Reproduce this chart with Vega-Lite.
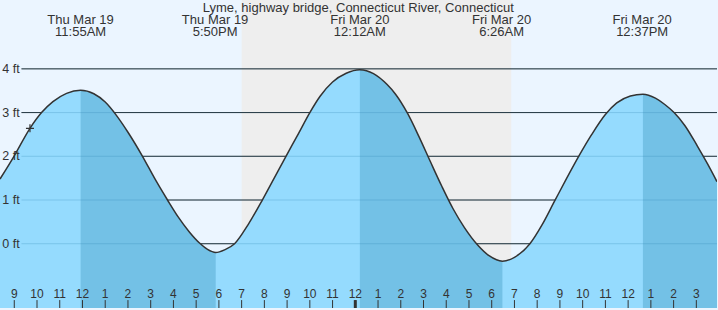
{
  "$schema": "https://vega.github.io/schema/vega-lite/v6.json",
  "width": 718,
  "height": 310,
  "autosize": {"type": "fit", "contains": "padding"},
  "padding": 0,
  "background": "#ebf5ff",
  "config": {"view": {"stroke": null, "fill": "#ebf5ff"}, "font": "Liberation Sans"},
  "datasets": {
    "night": [{"start": 19.0, "end": 30.86}],
    "grid": [
      {"v": 0, "label": "0 ft"},
      {"v": 1, "label": "1 ft"},
      {"v": 2, "label": "2 ft"},
      {"v": 3, "label": "3 ft"},
      {"v": 4, "label": "4 ft"}
    ],
    "hours": [
      {"hr": 9, "lab": "9"}, {"hr": 10, "lab": "10"}, {"hr": 11, "lab": "11"}, {"hr": 12, "lab": "12"},
      {"hr": 13, "lab": "1"}, {"hr": 14, "lab": "2"}, {"hr": 15, "lab": "3"}, {"hr": 16, "lab": "4"},
      {"hr": 17, "lab": "5"}, {"hr": 18, "lab": "6"}, {"hr": 19, "lab": "7"}, {"hr": 20, "lab": "8"},
      {"hr": 21, "lab": "9"}, {"hr": 22, "lab": "10"}, {"hr": 23, "lab": "11"}, {"hr": 24, "lab": "12"},
      {"hr": 25, "lab": "1"}, {"hr": 26, "lab": "2"}, {"hr": 27, "lab": "3"}, {"hr": 28, "lab": "4"},
      {"hr": 29, "lab": "5"}, {"hr": 30, "lab": "6"}, {"hr": 31, "lab": "7"}, {"hr": 32, "lab": "8"},
      {"hr": 33, "lab": "9"}, {"hr": 34, "lab": "10"}, {"hr": 35, "lab": "11"}, {"hr": 36, "lab": "12"},
      {"hr": 37, "lab": "1"}, {"hr": 38, "lab": "2"}, {"hr": 39, "lab": "3"}
    ],
    "extremes": [
      {"t": 11.917, "label": "Thu Mar 19\n11:55AM"},
      {"t": 17.833, "label": "Thu Mar 19\n5:50PM"},
      {"t": 24.2, "label": "Fri Mar 20\n12:12AM"},
      {"t": 30.433, "label": "Fri Mar 20\n6:26AM"},
      {"t": 36.617, "label": "Fri Mar 20\n12:37PM"}
    ],
    "tide": [
      {"t": 8.372, "h": 1.48, "seg": ""},
      {"t": 8.987, "h": 2.0, "seg": ""},
      {"t": 9.69, "h": 2.64, "seg": ""},
      {"t": 10.2, "h": 3.0, "seg": ""},
      {"t": 10.7, "h": 3.25, "seg": ""},
      {"t": 11.3, "h": 3.44, "seg": ""},
      {"t": 11.917, "h": 3.51, "seg": "A"},
      {"t": 12.5, "h": 3.43, "seg": "A"},
      {"t": 13.0, "h": 3.24, "seg": "A"},
      {"t": 13.5, "h": 2.93, "seg": "A"},
      {"t": 14.0, "h": 2.55, "seg": "A"},
      {"t": 14.64, "h": 2.0, "seg": "A"},
      {"t": 15.2, "h": 1.47, "seg": "A"},
      {"t": 15.74, "h": 1.0, "seg": "A"},
      {"t": 16.2, "h": 0.62, "seg": "A"},
      {"t": 16.7, "h": 0.27, "seg": "A"},
      {"t": 17.16, "h": 0.01, "seg": "A"},
      {"t": 17.5, "h": -0.13, "seg": "A"},
      {"t": 17.86, "h": -0.2, "seg": "A"},
      {"t": 18.25, "h": -0.14, "seg": ""},
      {"t": 18.69, "h": 0.0, "seg": ""},
      {"t": 19.3, "h": 0.45, "seg": ""},
      {"t": 19.91, "h": 1.0, "seg": ""},
      {"t": 20.45, "h": 1.52, "seg": ""},
      {"t": 20.95, "h": 2.0, "seg": ""},
      {"t": 21.5, "h": 2.52, "seg": ""},
      {"t": 22.0, "h": 3.0, "seg": ""},
      {"t": 22.46, "h": 3.38, "seg": ""},
      {"t": 23.0, "h": 3.7, "seg": ""},
      {"t": 23.6, "h": 3.9, "seg": ""},
      {"t": 24.2, "h": 3.98, "seg": "B"},
      {"t": 24.8, "h": 3.89, "seg": "B"},
      {"t": 25.4, "h": 3.64, "seg": "B"},
      {"t": 25.77, "h": 3.42, "seg": "B"},
      {"t": 26.3, "h": 2.98, "seg": "B"},
      {"t": 26.8, "h": 2.45, "seg": "B"},
      {"t": 27.3, "h": 1.88, "seg": "B"},
      {"t": 27.8, "h": 1.32, "seg": "B"},
      {"t": 28.3, "h": 0.8, "seg": "B"},
      {"t": 28.8, "h": 0.37, "seg": "B"},
      {"t": 29.4, "h": -0.04, "seg": "B"},
      {"t": 29.9, "h": -0.28, "seg": "B"},
      {"t": 30.47, "h": -0.4, "seg": "B"},
      {"t": 31.0, "h": -0.31, "seg": ""},
      {"t": 31.68, "h": 0.0, "seg": ""},
      {"t": 32.2, "h": 0.42, "seg": ""},
      {"t": 32.74, "h": 0.95, "seg": ""},
      {"t": 33.3, "h": 1.5, "seg": ""},
      {"t": 33.85, "h": 2.02, "seg": ""},
      {"t": 34.4, "h": 2.5, "seg": ""},
      {"t": 34.99, "h": 2.95, "seg": ""},
      {"t": 35.5, "h": 3.22, "seg": ""},
      {"t": 36.1, "h": 3.38, "seg": ""},
      {"t": 36.65, "h": 3.42, "seg": "C"},
      {"t": 37.2, "h": 3.33, "seg": "C"},
      {"t": 37.6, "h": 3.19, "seg": "C"},
      {"t": 38.02, "h": 3.0, "seg": "C"},
      {"t": 38.5, "h": 2.7, "seg": "C"},
      {"t": 39.04, "h": 2.24, "seg": "C"},
      {"t": 39.5, "h": 1.82, "seg": "C"},
      {"t": 39.909, "h": 1.42, "seg": "C"}
    ],
    "now": [{"t": 9.69, "h": 2.64}],
    "midnight": [{"t": 24}],
    "title": [{"text": "Lyme, highway bridge, Connecticut River, Connecticut"}]
  },
  "layer": [
    {
      "data": {"name": "night"},
      "mark": {"type": "rect", "color": "#eeeeee"},
      "encoding": {
        "x": {"field": "start", "type": "quantitative", "scale": {"domain": [8.372, 39.909], "nice": false, "zero": false}, "axis": null},
        "x2": {"field": "end"}
      }
    },
    {
      "data": {"name": "grid"},
      "mark": {"type": "rule", "color": "#222222", "strokeWidth": 1},
      "encoding": {
        "y": {"field": "v", "type": "quantitative", "scale": {"domain": [-1.47, 5.575], "nice": false, "zero": false}, "axis": null},
        "x": {"datum": 9.316, "type": "quantitative", "axis": null},
        "x2": {"datum": 39.909}
      }
    },
    {
      "data": {"name": "tide"},
      "mark": {"type": "area", "color": "#95dbfe", "interpolate": "monotone", "clip": true},
      "encoding": {
        "x": {"field": "t", "type": "quantitative", "axis": null},
        "y": {"field": "h", "type": "quantitative", "axis": null},
        "y2": {"datum": -1.47}
      }
    },
    {
      "data": {"name": "tide"},
      "transform": [{"filter": "datum.seg != ''"}],
      "mark": {"type": "area", "color": "#73c1e6", "interpolate": "monotone", "clip": true},
      "encoding": {
        "x": {"field": "t", "type": "quantitative", "axis": null},
        "y": {"field": "h", "type": "quantitative", "axis": null},
        "y2": {"datum": -1.47},
        "detail": {"field": "seg"}
      }
    },
    {
      "data": {"name": "grid"},
      "mark": {"type": "rule", "color": "#2a7fb0", "opacity": 0.25, "strokeWidth": 1},
      "encoding": {
        "y": {"field": "v", "type": "quantitative", "axis": null},
        "x": {"datum": 9.316, "type": "quantitative", "axis": null},
        "x2": {"datum": 39.909}
      }
    },
    {
      "data": {"name": "tide"},
      "mark": {"type": "line", "color": "#333333", "strokeWidth": 1.5, "interpolate": "monotone", "clip": true},
      "encoding": {
        "x": {"field": "t", "type": "quantitative", "axis": null},
        "y": {"field": "h", "type": "quantitative", "axis": null}
      }
    },
    {
      "data": {"name": "grid"},
      "mark": {"type": "text", "align": "right", "baseline": "middle", "fontSize": 12.5, "color": "#333333", "font": "Liberation Sans"},
      "encoding": {
        "y": {"field": "v", "type": "quantitative", "axis": null},
        "x": {"datum": 9.24, "type": "quantitative", "axis": null},
        "text": {"field": "label"}
      }
    },
    {
      "data": {"name": "hours"},
      "mark": {"type": "rule", "color": "#333333", "strokeWidth": 1},
      "encoding": {
        "x": {"field": "hr", "type": "quantitative", "axis": null},
        "y": {"datum": -1.47, "type": "quantitative", "axis": null},
        "y2": {"datum": -1.289}
      }
    },
    {
      "data": {"name": "hours"},
      "mark": {"type": "text", "align": "center", "baseline": "alphabetic", "fontSize": 12, "color": "#333333", "font": "Liberation Sans"},
      "encoding": {
        "x": {"field": "hr", "type": "quantitative", "axis": null},
        "y": {"datum": -1.243, "type": "quantitative", "axis": null},
        "text": {"field": "lab"}
      }
    },
    {
      "data": {"name": "extremes"},
      "mark": {"type": "text", "align": "center", "baseline": "alphabetic", "fontSize": 13, "lineHeight": 12, "lineBreak": "\n", "color": "#333333", "font": "Liberation Sans"},
      "encoding": {
        "x": {"field": "t", "type": "quantitative", "axis": null},
        "y": {"datum": 5.03, "type": "quantitative", "axis": null},
        "text": {"field": "label"}
      }
    },
    {
      "data": {"name": "title"},
      "mark": {"type": "text", "align": "center", "baseline": "alphabetic", "fontSize": 13, "color": "#333333", "font": "Liberation Sans"},
      "encoding": {
        "x": {"datum": 24.13, "type": "quantitative", "axis": null},
        "y": {"datum": 5.3, "type": "quantitative", "axis": null},
        "text": {"field": "text"}
      }
    },
    {
      "data": {"name": "now"},
      "mark": {"type": "point", "shape": "M-1,0H1M0,-1V1", "size": 64, "filled": false, "color": "#333333", "strokeWidth": 1.2, "opacity": 1},
      "encoding": {
        "x": {"field": "t", "type": "quantitative", "axis": null},
        "y": {"field": "h", "type": "quantitative", "axis": null}
      }
    },
    {
      "data": {"name": "midnight"},
      "mark": {"type": "rule", "color": "#333333", "strokeWidth": 3},
      "encoding": {
        "x": {"field": "t", "type": "quantitative", "axis": null},
        "y": {"datum": -1.47, "type": "quantitative", "axis": null},
        "y2": {"datum": -1.289}
      }
    }
  ]
}
